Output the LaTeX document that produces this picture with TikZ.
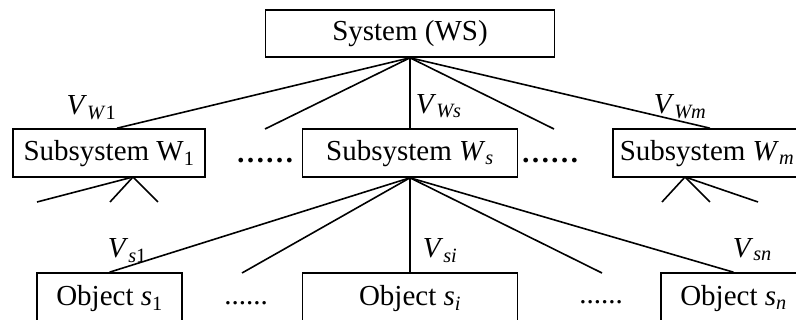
\documentclass[tikz,border=0pt]{standalone}
\usepackage{fontspec}
\setmainfont{Liberation Serif}
\usetikzlibrary{calc}

\tikzstyle{box} = [draw, line width=1.6pt, inner sep=0pt, text height=21pt, text depth=6pt]
\tikzstyle{link} = [line width=1.6pt]
\tikzstyle{lab} = [inner sep=0pt]

\begin{document}
\begin{tikzpicture}[x=1pt, y=1pt, font=\fontsize{29}{35}\selectfont]
	\path[use as bounding box, clip] (0,0) rectangle (796,320);
	% boxes
	\node[box, minimum width=289pt, minimum height=47pt] (sys) at (410,286.5) {System (WS)};
	\node[box, minimum width=192pt, minimum height=48pt] (w1) at (109,167) {Subsystem W\textsubscript{1}};
	\node[box, minimum width=215pt, minimum height=48pt] (ws) at (410,167) {Subsystem \textit{W}\textsubscript{\textit{s}}};
	\node[box, minimum width=188pt, minimum height=48pt] (wm) at (707,167) {Subsystem \textit{W}\textsubscript{\textit{m}}};
	\node[box, minimum width=145pt, minimum height=50pt] (s1) at (109.5,22) {Object \textit{s}\textsubscript{1}};
	\node[box, minimum width=215pt, minimum height=50pt] (si) at (410,22) {Object \textit{s}\textsubscript{\textit{i}}};
	\node[box, minimum width=145pt, minimum height=50pt] (sn) at (733.5,22) {Object \textit{s}\textsubscript{\textit{n}}};
	\node[anchor=base] (dots1) at (265,157) {\textbf{……}};
	\node[anchor=base] (dots2) at (550,157) {\textbf{……}};
	\node[anchor=base] (dots3) at (246,15) {......};
	\node[anchor=base] (dots4) at (601,16) {......};
	% loose ends
	\coordinate (d1) at (265,191);
	\coordinate (d2) at (554,191);
	\coordinate (d3) at (242,47);
	\coordinate (d4) at (602,47);
	\coordinate (w1b) at (133,143);
	\coordinate (e1) at (37,118);
	\coordinate (e2) at (110,118);
	\coordinate (e3) at (158,118);
	\coordinate (wmb) at (685,143);
	\coordinate (f1) at (662,118);
	\coordinate (f2) at (710,118);
	\coordinate (f3) at (758,118);
	% system level
	\draw[link] (sys.south) -- node[lab, pos=1, anchor=base east, yshift=14pt]{\textit{V}\textsubscript{\textit{W}1}} ($(w1.north)+(8,0)$);
	\draw[link] (sys.south) -- (d1);
	\draw[link] (sys.south) -- node[lab, pos=1, anchor=base west, xshift=5pt, yshift=15pt]{\textit{V}\textsubscript{\textit{Ws}}} (ws.north);
	\draw[link] (sys.south) -- (d2);
	\draw[link] (sys.south) -- node[lab, pos=0.81, anchor=base west, yshift=1.5pt]{\textit{V}\textsubscript{\textit{Wm}}} ($(wm.north)+(3,0)$);
	% subsystem level
	\draw[link] (w1b) -- (e1);
	\draw[link] (w1b) -- (e2);
	\draw[link] (w1b) -- (e3);
	\draw[link] (wmb) -- (f1);
	\draw[link] (wmb) -- (f2);
	\draw[link] (wmb) -- (f3);
	\draw[link] (ws.south) -- node[lab, pos=1, anchor=base west, xshift=-2.5pt, yshift=15pt]{\textit{V}\textsubscript{\textit{s}1}} (s1.north);
	\draw[link] (ws.south) -- (d3);
	\draw[link] (ws.south) -- node[lab, pos=1, anchor=base west, xshift=12pt, yshift=15pt]{\textit{V}\textsubscript{\textit{si}}} (si.north);
	\draw[link] (ws.south) -- (d4);
	\draw[link] (ws.south) -- node[lab, pos=1, anchor=base west, xshift=-1.5pt, yshift=15pt]{\textit{V}\textsubscript{\textit{sn}}} (sn.north);
\end{tikzpicture}
\end{document}
